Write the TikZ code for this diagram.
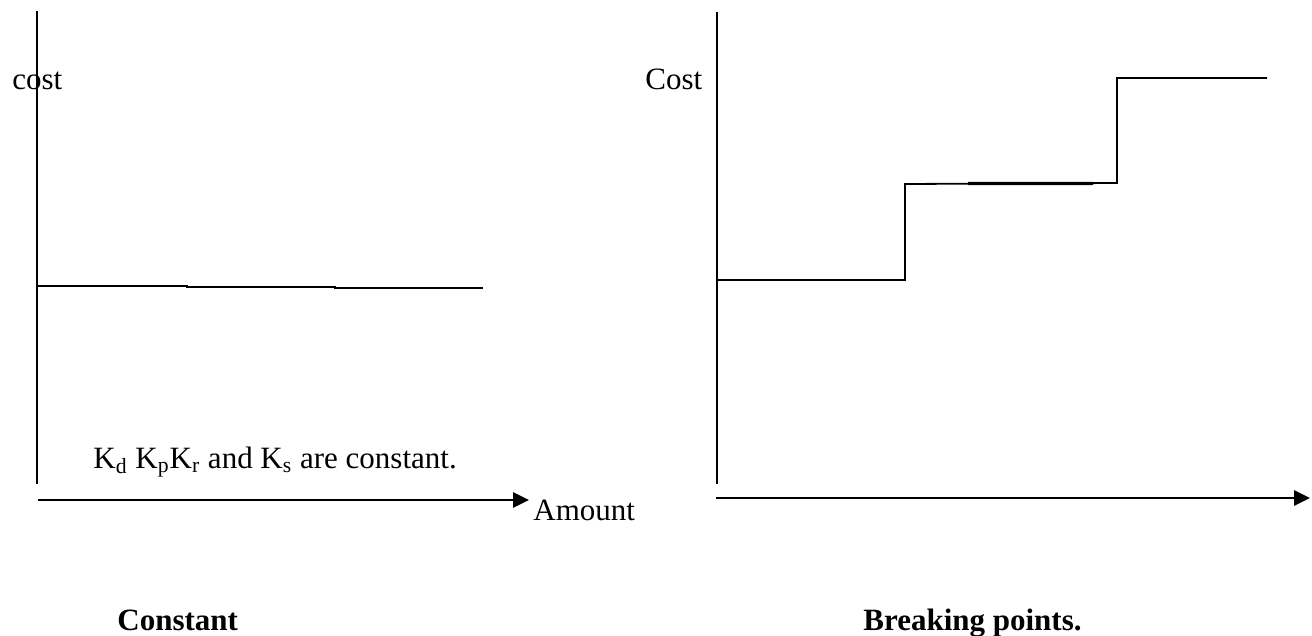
\documentclass[tikz,border=0pt]{standalone}
\usepackage{fontspec}
\setmainfont{Liberation Serif}
\usetikzlibrary{arrows.meta,positioning}

\begin{document}
\begin{tikzpicture}[x=0.5pt, y=-0.5pt, >={Triangle[length=8pt,width=7.5pt]},
  axis/.style={line width=1pt},
  amt/.style={line width=1.35pt, ->},
  curve/.style={line width=0.9pt},
  lbl/.style={inner sep=0pt, anchor=base west, font=\fontsize{15.5}{18}\selectfont},
  title/.style={lbl, font=\fontsize{15.5}{18}\selectfont\bfseries}]
\useasboundingbox (0,0) rectangle (1312,636);
% constant cost
\node[lbl] (cl) at (12,90) {cost};
\node[lbl] (kk) at (93,468) {K\textsubscript{d} K\textsubscript{p}K\textsubscript{r} and K\textsubscript{s} are constant.};
\node[lbl] (am) at (533,520) {Amount};
\node[title] (tc) at (117,630) {Constant};
\coordinate (ya) at (37,11);  \coordinate (yb) at (37,484);
\coordinate (xa) at (38,500); \coordinate (xb) at (529,500);
\draw[axis] (ya) -- (yb);
\draw[amt] (xa) -- (xb);
\coordinate (c0) at (38,286);  \coordinate (c1) at (187,286);
\coordinate (c2) at (187,287); \coordinate (c3) at (335,287);
\coordinate (c4) at (335,288); \coordinate (c5) at (483,288);
\draw[curve] (c0) -- (c1) -- (c2) -- (c3) -- (c4) -- (c5);
% breaking points
\node[lbl] (cr) at (645,90) {Cost};
\node[title] (tb) at (863,630) {Breaking points.};
\coordinate (yc) at (717,12);  \coordinate (yd) at (717,484);
\coordinate (xc) at (716,498); \coordinate (xd) at (1310,498);
\draw[axis] (yc) -- (yd);
\draw[amt] (xc) -- (xd);
\coordinate (s0) at (717,280);  \coordinate (s1) at (905,280);
\coordinate (s2) at (905,184);  \coordinate (s3) at (1117,183);
\coordinate (s4) at (1117,78);  \coordinate (s5) at (1267,78);
\draw[curve] (s0) -- (s1) -- (s2) -- (s3) -- (s4) -- (s5);
\draw[line width=1.6pt] (968,183.6) -- (1093,183.4);
\end{tikzpicture}
\end{document}
